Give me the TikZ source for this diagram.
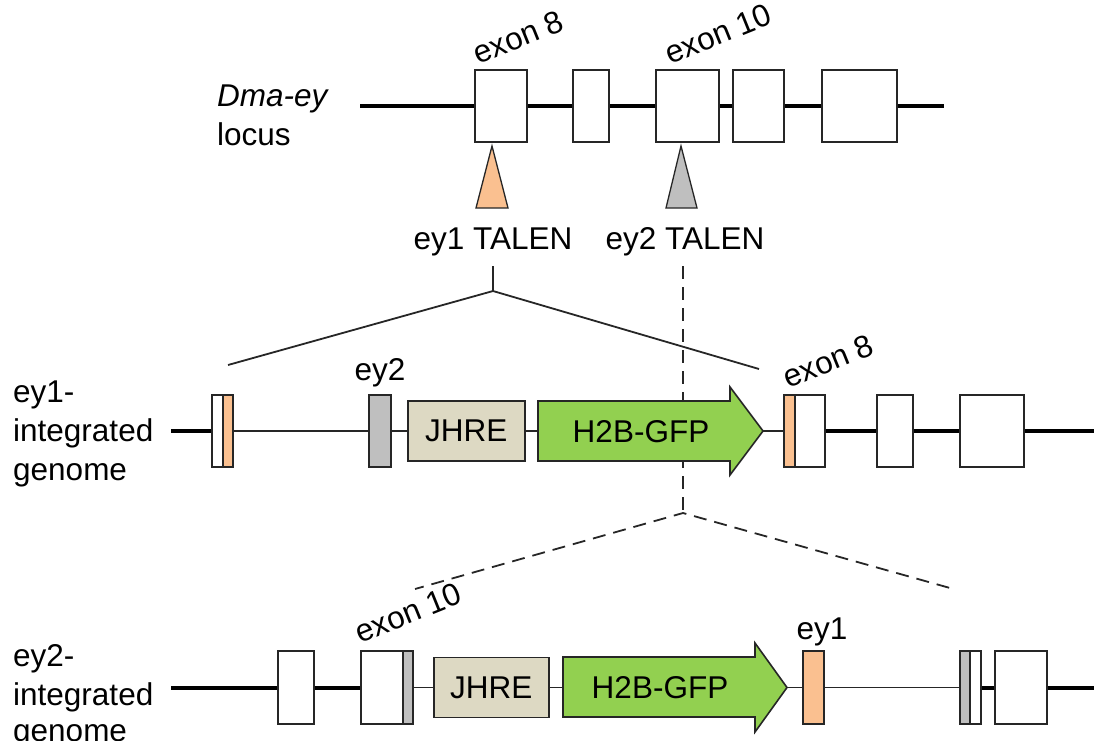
\documentclass[tikz,border=0pt]{standalone}
\usepackage{fontspec}
\setmainfont{Liberation Sans}
\definecolor{orng}{HTML}{FAC090}
\definecolor{gry}{HTML}{BFBFBF}
\definecolor{beige}{HTML}{DDD9C3}
\definecolor{grn}{HTML}{92D050}
\definecolor{edge}{HTML}{262626}
\begin{document}
\begin{tikzpicture}[x=1pt,y=-1pt,
  lbl/.style={font=\fontsize{31.5pt}{38pt}\selectfont, inner sep=0pt, text=black},
  exlbl/.style={font=\fontsize{31.5pt}{38pt}\selectfont, inner sep=0pt, rotate=22, anchor=base west},
  box/.style={draw=edge, line width=1.6pt, fill=white, inner sep=0pt, minimum height=72pt},
  obox/.style={box, fill=orng},
  gbox/.style={box, fill=gry},
  jbox/.style={draw=edge, line width=1.6pt, fill=beige, inner sep=0pt, minimum height=60pt, minimum width=#1, font=\fontsize{31.5pt}{38pt}\selectfont},
  thickln/.style={line width=4pt, draw=black},
  thinln/.style={line width=1.5pt, draw=edge},
  dashln/.style={line width=1.8pt, draw=edge, dash pattern=on 13pt off 8pt},
  solidln/.style={line width=1.8pt, draw=edge},
  arrowfill/.style={draw=edge, line width=1.6pt, fill=grn, line join=miter}
]
\useasboundingbox (0,0) rectangle (1094,740);
\clip (0,0) rectangle (1094,740);

% ---------------- top: Dma-ey locus ----------------
\node[lbl, anchor=base west] (t1) at (217,106) {\textit{Dma-ey}};
\node[lbl, anchor=base west] (t2) at (217,145) {locus};
\coordinate (ts) at (360,106);
\coordinate (te) at (944,106);
\node[box, minimum width=52pt] (e8) at (501,106) {};
\node[box, minimum width=36pt] (b2) at (591,106) {};
\node[box, minimum width=63pt] (e10) at (687.5,106) {};
\node[box, minimum width=51pt] (b4) at (758.5,106) {};
\node[box, minimum width=75pt] (b5) at (859.5,106) {};
\draw[thickln] (ts) -- (e8.west);
\draw[thickln] (e8.east) -- (b2.west);
\draw[thickln] (b2.east) -- (e10.west);
\draw[thickln] (e10.east) -- (b4.west);
\draw[thickln] (b4.east) -- (b5.west);
\draw[thickln] (b5.east) -- (te);
\node[exlbl] (x8) at (478,65) {exon 8};
\node[exlbl] (x10) at (670,65) {exon 10};

% TALEN triangles
\draw[draw=edge, line width=1.3pt, fill=orng, line join=miter] (492,146) -- (508,208) -- (476,208) -- cycle;
\draw[draw=edge, line width=1.3pt, fill=gry, line join=miter] (681,146) -- (697,208) -- (666,208) -- cycle;
\node[lbl, anchor=base] (tal1) at (493,249) {ey1 TALEN};
\node[lbl, anchor=base] (tal2) at (685,249) {ey2 TALEN};

% zoom lines
\coordinate (s0) at (493,266);
\coordinate (s1) at (493,291);
\coordinate (sl) at (228,365);
\coordinate (sr) at (759,369);
\draw[solidln] (s0) -- (s1);
\draw[solidln] (sl) -- (s1) -- (sr);
\coordinate (d0) at (683,266);
\coordinate (d1) at (683,513);
\coordinate (dl) at (415,589);
\coordinate (dr) at (950,588);
\draw[dashln] (d0) -- (d1);
\draw[dashln, dash phase=4pt] (dl) -- (d1) -- (dr);

% ---------------- middle: ey1-integrated genome ----------------
\node[lbl, anchor=base west] (m1) at (13,402) {ey1-};
\node[lbl, anchor=base west] (m2) at (13,441) {integrated};
\node[lbl, anchor=base west] (m3) at (13,480) {genome};
\coordinate (ms) at (171,431);
\coordinate (me) at (1094,431);
\node[box, minimum width=11pt, anchor=west] (mw) at (211,431) {};
\node[obox, minimum width=10pt, anchor=west] (mo) at (222,431) {};
\node[gbox, minimum width=22pt, anchor=west] (my2) at (368,431) {};
\node[lbl, anchor=base] (my2l) at (380,380) {ey2};
\node[jbox=117pt, anchor=west] (mj) at (407,431) {JHRE};
\path[arrowfill] (538,401) -- (730,401) -- (730,387) -- (763,431) -- (730,475) -- (730,461) -- (538,461) -- cycle;
\coordinate (ma0) at (538,431);
\coordinate (ma1) at (763,431);
\node[lbl] (mg) at (641,432) {H2B-GFP};
\node[obox, minimum width=11pt, anchor=west] (m8o) at (783,431) {};
\node[box, minimum width=30pt, anchor=west] (m8w) at (794,431) {};
\node[box, minimum width=36pt, anchor=west] (mb2) at (876,431) {};
\node[box, minimum width=64pt, anchor=west] (mb3) at (959,431) {};
\node[exlbl] (mx8) at (788,389) {exon 8};
\draw[thickln] (ms) -- (mw.west);
\draw[thinln] (mo.east) -- (my2.west);
\draw[thinln] (my2.east) -- (mj.west);
\draw[thinln] (mj.east) -- (ma0);
\draw[thinln] (ma1) -- (m8o.west);
\draw[thickln] (m8w.east) -- (mb2.west);
\draw[thickln] (mb2.east) -- (mb3.west);
\draw[thickln] (mb3.east) -- (me);

% ---------------- bottom: ey2-integrated genome ----------------
\node[lbl, anchor=base west] (n1) at (13,666) {ey2-};
\node[lbl, anchor=base west] (n2) at (13,705) {integrated};
\node[lbl, anchor=base west] (n3) at (13,741) {genome};
\coordinate (ns) at (171,687.5);
\coordinate (ne) at (1094,687.5);
\node[box, minimum width=36pt, minimum height=73pt, anchor=west] (nb1) at (277,687.5) {};
\node[box, minimum width=42pt, minimum height=73pt, anchor=west] (n10w) at (360,687.5) {};
\node[gbox, minimum width=10pt, minimum height=73pt, anchor=west] (n10g) at (402,687.5) {};
\node[exlbl] (nx10) at (360,644) {exon 10};
\node[jbox=115pt, anchor=west] (nj) at (433,687.5) {JHRE};
\path[arrowfill] (563,657) -- (755,657) -- (755,643) -- (787,687.5) -- (755,732) -- (755,717) -- (563,717) -- cycle;
\coordinate (na0) at (563,687.5);
\coordinate (na1) at (787,687.5);
\node[lbl] (ng) at (660,688) {H2B-GFP};
\node[obox, minimum width=21pt, minimum height=73pt, anchor=west] (ny1) at (802,687.5) {};
\node[lbl, anchor=base] (ny1l) at (822,639) {ey1};
\node[gbox, minimum width=10pt, minimum height=73pt, anchor=west] (nrg) at (959,687.5) {};
\node[box, minimum width=11pt, minimum height=73pt, anchor=west] (nrw) at (969,687.5) {};
\node[box, minimum width=52pt, minimum height=73pt, anchor=west] (nb5) at (994,687.5) {};
\draw[thickln] (ns) -- (nb1.west);
\draw[thickln] (nb1.east) -- (n10w.west);
\draw[thinln] (n10g.east) -- (nj.west);
\draw[thinln] (nj.east) -- (na0);
\draw[thinln] (na1) -- (ny1.west);
\draw[thinln] (ny1.east) -- (nrg.west);
\draw[thickln] (nrw.east) -- (nb5.west);
\draw[thickln] (nb5.east) -- (ne);
\end{tikzpicture}
\end{document}
